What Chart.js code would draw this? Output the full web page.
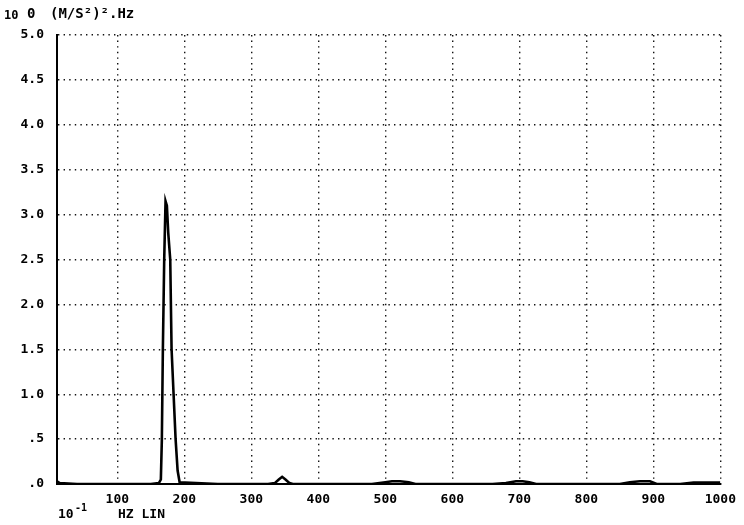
<!DOCTYPE html>
<html>
<head>
<meta charset="utf-8">
<script src="https://cdn.jsdelivr.net/npm/chart.js@4"></script>
<style>
  html, body { margin: 0; padding: 0; background: #fff; }
  #wrap { width: 744px; height: 525px; position: relative; }
</style>
</head>
<body>
<div id="wrap"><canvas id="spectrum"></canvas></div>
<script>
// frequency (10^-1 Hz) and level (10^0 (M/S²)²/Hz)
const freqs = [10, 14, 40, 150, 162, 165, 166.5, 168, 170, 172, 174, 176, 179, 181, 184,
  187, 190, 193, 250, 325, 335, 341, 346, 351, 357, 362, 480, 500, 510, 522, 535, 545, 660,
  680, 695, 705, 715, 725, 850, 865, 880, 895, 905, 940, 960, 1000];
const levels = [0.03, 0.01, 0, 0, 0.01, 0.05, 0.5, 1.5, 2.5, 3.15, 3.1, 2.8, 2.5, 1.5, 1.0,
  0.5, 0.15, 0.02, 0, 0, 0.01, 0.05, 0.08, 0.05, 0.01, 0, 0, 0.02, 0.03, 0.03, 0.02, 0, 0,
  0.01, 0.03, 0.03, 0.02, 0, 0, 0.02, 0.03, 0.03, 0, 0, 0.015, 0.015];
const xTicks = [100, 200, 300, 400, 500, 600, 700, 800, 900, 1000];
const yTicks = [0, 0.5, 1, 1.5, 2, 2.5, 3, 3.5, 4, 4.5, 5];

const FONT = 'DejaVu Sans Mono';

// header + footer captions drawn like the plotter text
const captions = {
  id: 'captions',
  afterDraw(chart) {
    const ctx = chart.ctx;
    ctx.save();
    ctx.fillStyle = '#000';
    ctx.textBaseline = 'middle';
    ctx.font = 'bold 12px ' + FONT;
    ctx.fillText('10', 4, 16);
    ctx.font = 'bold 14px ' + FONT;
    ctx.fillText('0', 27, 14);
    ctx.fillText('(M/S²)².Hz', 50, 14);
    ctx.font = 'bold 13px ' + FONT;
    ctx.fillText('10', 58, 515);
    ctx.font = 'bold 10px ' + FONT;
    ctx.fillText('-1', 75, 508);
    ctx.font = 'bold 13px ' + FONT;
    ctx.fillText('HZ LIN', 118, 515);
    ctx.restore();
  }
};

new Chart(document.getElementById('spectrum'), {
  type: 'line',
  data: {
    datasets: [{
      data: freqs.map((f, i) => ({ x: f, y: levels[i] })),
      borderColor: '#000',
      borderWidth: 2.6,
      pointRadius: 0,
      tension: 0,
      fill: false
    }]
  },
  options: {
    responsive: true,
    maintainAspectRatio: false,
    animation: false,
    layout: { padding: { top: 35, right: 20, bottom: 0, left: 0 } },
    plugins: { legend: { display: false }, tooltip: { enabled: false } },
    scales: {
      x: {
        type: 'linear',
        min: 10,
        max: 1000,
        afterBuildTicks: s => { s.ticks = xTicks.map(v => ({ value: v })); },
        afterFit: s => { s.height = 41; },
        grid: { color: '#111', lineWidth: 1.4, drawTicks: false, tickLength: 0 },
        border: { display: true, color: '#000', width: 2, dash: [1.4, 4.2] },
        ticks: {
          padding: 8,
          maxRotation: 0,
          autoSkip: false,
          color: '#000',
          font: { family: FONT, size: 13, weight: 'bold' },
          callback: v => String(v)
        }
      },
      y: {
        min: 0,
        max: 5,
        afterBuildTicks: s => { s.ticks = yTicks.map(v => ({ value: v })); },
        afterFit: s => { s.width = 57; },
        grid: { color: '#111', lineWidth: 1.4, drawTicks: false, tickLength: 0 },
        border: { display: true, color: '#000', width: 2, dash: [1.4, 4.2] },
        ticks: {
          padding: 13,
          color: '#000',
          font: { family: FONT, size: 13, weight: 'bold' },
          callback: v => v.toFixed(1).replace(/^0/, '')
        }
      }
    }
  },
  plugins: [captions]
});
</script>
</body>
</html>
